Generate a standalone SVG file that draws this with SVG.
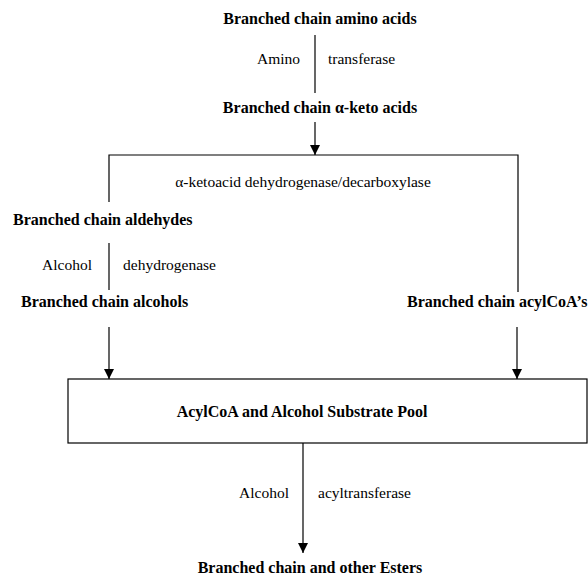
<svg xmlns="http://www.w3.org/2000/svg" width="588" height="579" viewBox="0 0 588 579">
<style>
.b{font-family:"Liberation Serif","Times New Roman",serif;font-weight:bold;font-size:16px;fill:#000}
.r{font-family:"Liberation Serif","Times New Roman",serif;font-size:15.5px;fill:#000}
.ln{stroke:#000;stroke-width:1.2;fill:none}
</style>
<defs>
<marker id="ah" markerUnits="userSpaceOnUse" markerWidth="10" markerHeight="10" viewBox="0 0 10 10" refX="10" refY="5" orient="auto">
<path d="M0,0 L10,5 L0,10 Z" fill="#000"/>
</marker>
</defs>
<rect width="588" height="579" fill="#fff"/>
<g id="connectors">
<line class="ln" x1="315" y1="35" x2="315" y2="93"/>
<line class="ln" x1="315" y1="122" x2="315" y2="155" marker-end="url(#ah)"/>
<polyline class="ln" points="109,202 109,155 518,155 518,292"/>
<line class="ln" x1="109" y1="243" x2="109" y2="290"/>
<line class="ln" x1="109" y1="327" x2="109" y2="379" marker-end="url(#ah)"/>
<line class="ln" x1="517" y1="327" x2="517" y2="379" marker-end="url(#ah)"/>
<line class="ln" x1="303" y1="443" x2="303" y2="553" marker-end="url(#ah)"/>
</g>
<g id="amino-acids"><text class="b" x="320" y="24" text-anchor="middle">Branched chain amino acids</text></g>
<g id="aminotransferase-label"><text class="r" x="300" y="64" text-anchor="end">Amino</text><text class="r" x="328" y="64">transferase</text></g>
<g id="keto-acids"><text class="b" x="320" y="113" text-anchor="middle">Branched chain α-keto acids</text></g>
<g id="decarboxylase-label"><text class="r" x="303" y="187" text-anchor="middle">α-ketoacid dehydrogenase/decarboxylase</text></g>
<g id="aldehydes"><text class="b" x="13" y="225">Branched chain aldehydes</text></g>
<g id="adh-label"><text class="r" x="92" y="270" text-anchor="end">Alcohol</text><text class="r" x="123" y="270">dehydrogenase</text></g>
<g id="alcohols"><text class="b" x="21" y="307">Branched chain alcohols</text></g>
<g id="acylcoas"><text class="b" x="407" y="307">Branched chain acylCoA’s</text></g>
<g id="pool"><rect class="ln" x="68" y="379" width="519" height="64"/><text class="b" x="302" y="417" text-anchor="middle">AcylCoA and Alcohol Substrate Pool</text></g>
<g id="aat-label"><text class="r" x="289" y="498" text-anchor="end">Alcohol</text><text class="r" x="318" y="498">acyltransferase</text></g>
<g id="esters"><text class="b" x="310" y="573" text-anchor="middle">Branched chain and other Esters</text></g>
</svg>
